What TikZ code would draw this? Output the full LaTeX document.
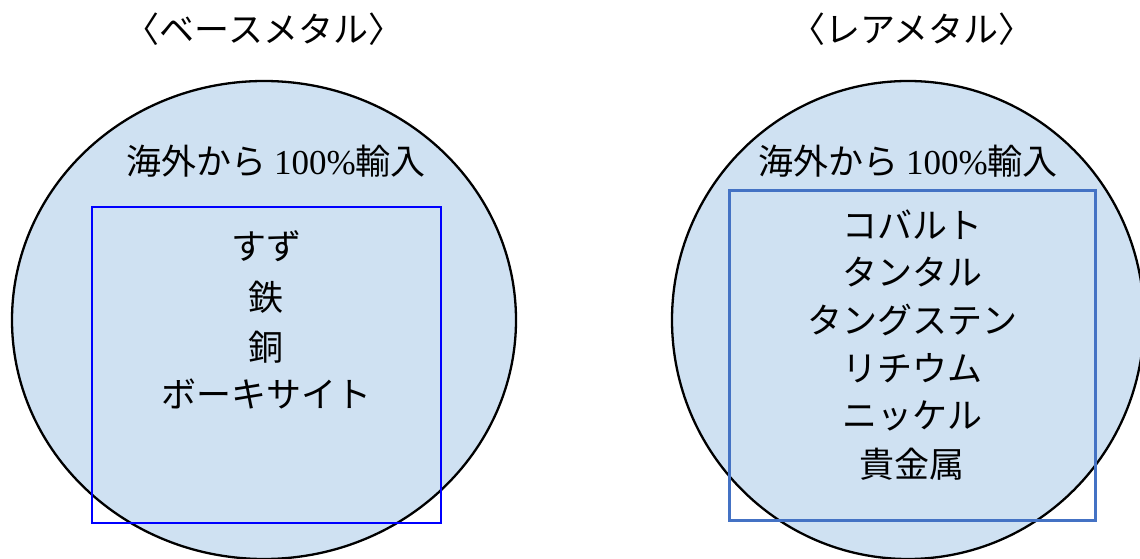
\documentclass[tikz,border=0pt]{standalone}
\usepackage{fontspec}
\setmainfont{Liberation Serif}
\newfontfamily\jp{Noto Sans CJK JP}
\usetikzlibrary{shapes.geometric}
\definecolor{circfill}{HTML}{CFE1F2}
\definecolor{boxblueA}{HTML}{0000FF}
\definecolor{boxblueB}{HTML}{4472C4}
\tikzset{
  metalcirc/.style={ellipse, draw=black, line width=2.3pt, fill=circfill, inner sep=0pt},
  listbox/.style={rectangle, draw, inner sep=0pt},
  lbl/.style={inner sep=0pt, font=\fontsize{35}{42}\selectfont\jp},
  item/.style={inner sep=0pt, font=\fontsize{35}{42}\selectfont\jp}
}
\begin{document}
\begin{tikzpicture}[x=1pt,y=1pt]
\useasboundingbox (0,0) rectangle (1140,-559);
\clip (0,0) rectangle (1140,-559);
% circles
\node[metalcirc, minimum width=504pt, minimum height=478pt] (cbase) at (264,-320) {};
\node[metalcirc, minimum width=472pt, minimum height=478pt] (crare) at (908,-320) {};
% boxes
\node[listbox, draw=boxblueA, line width=2.3pt, minimum width=349pt, minimum height=316pt] (bbase) at (266.5,-365) {};
\node[listbox, draw=boxblueB, line width=3pt, minimum width=366pt, minimum height=330pt] (brare) at (912,-355) {};
% titles
\node[lbl] (tbase) at (264,-29) {〈ベースメタル〉};
\node[lbl] (trare) at (912,-29) {〈レアメタル〉};
% import labels
\node[lbl] (ibase) at (276,-161) {海外から {\rmfamily 100\%}輸入};
\node[lbl] (irare) at (908,-161) {海外から {\rmfamily 100\%}輸入};
% base metal list
\node[item] (b1) at (266,-246) {すず};
\node[item] (b2) at (266,-297) {鉄};
\node[item] (b3) at (266,-347) {銅};
\node[item] (b4) at (266,-394) {ボーキサイト};
% rare metal list
\node[item] (r1) at (912,-225) {コバルト};
\node[item] (r2) at (912,-272) {タンタル};
\node[item] (r3) at (912,-320) {タングステン};
\node[item] (r4) at (912,-368) {リチウム};
\node[item] (r5) at (912,-416) {ニッケル};
\node[item] (r6) at (912,-464) {貴金属};
\end{tikzpicture}
\end{document}
